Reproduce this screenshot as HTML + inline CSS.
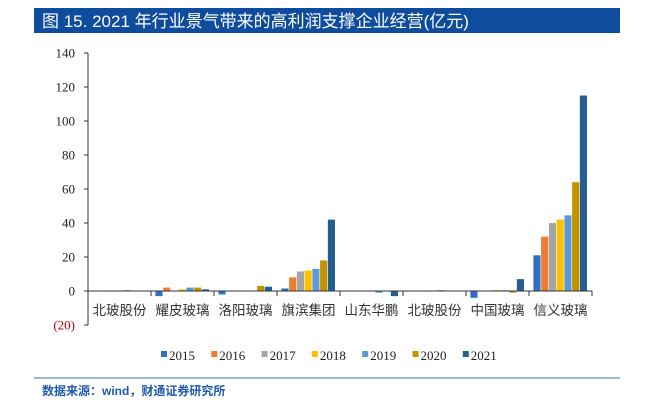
<!DOCTYPE html>
<html><head><meta charset="utf-8"><style>
body{margin:0;background:#fff;width:654px;height:411px;overflow:hidden;font-family:"Liberation Serif","Noto Serif CJK SC",serif}
</style></head><body>
<svg id="c" width="654" height="411" xmlns="http://www.w3.org/2000/svg">
<rect x="34" y="8" width="586" height="25" fill="#0E4C9E"/>
<text x="42" y="27" fill="#fff" font-size="17" font-family="Liberation Sans,Noto Sans CJK SC,sans-serif">图 15. 2021 年行业景气带来的高利润支撑企业经营(亿元)</text>
<g id="plot"></g>
<line x1="34" y1="378" x2="620" y2="378" stroke="#5B8FD0" stroke-width="1.2"/>
<text x="42" y="395" fill="#1F5AAE" font-size="12" font-weight="bold" font-family="Liberation Sans,Noto Sans CJK SC,sans-serif">数据来源：wind，财通证券研究所</text>
</svg>
<script>
const categories=["北玻股份","耀皮玻璃","洛阳玻璃","旗滨集团","山东华鹏","北玻股份","中国玻璃","信义玻璃"];
const years=["2015","2016","2017","2018","2019","2020","2021"];
const colors=["#3070C4","#ED7D31","#A5A5A5","#FFC000","#5B9BD5","#C49300","#255E91"];
const s2015=[0,-3,-2,1.5,0,0,-4,21];
const s2016=[0,2,0,8,0,0,0,32];
const s2017=[-0.3,0,0,11.5,0,-0.3,0,40];
const s2018=[0,1,0,12,0,0,0.5,42];
const s2019=[0.5,2,0.3,13,-1,0.5,0.5,44.5];
const s2020=[0,2,3,18,0,0,-1,64];
const s2021=[0,1,2.5,42,-3,0,7,115];
const series=[s2015,s2016,s2017,s2018,s2019,s2020,s2021];
const yTicks=[-20,0,20,40,60,80,100,120,140];
const yLabels=["(20)","0","20","40","60","80","100","120","140"];
const NS="http://www.w3.org/2000/svg",g=document.getElementById("plot");
const x0=88,x1=592,yMin=-20,yMax=140,yTop=53,yBot=325;
const y=v=>yBot-(v-yMin)/(yMax-yMin)*(yBot-yTop);
const bw=(x1-x0)/categories.length;
function mk(t,a){const e=document.createElementNS(NS,t);for(const k in a)e.setAttribute(k,a[k]);g.appendChild(e);return e;}
let e=mk("line",{x1:x0,y1:yTop,x2:x0,y2:yBot,stroke:"#333"});


yTicks.forEach((t,i)=>{
 const l=mk("line",{x1:x0-4,y1:y(t),x2:x0,y2:y(t),stroke:"#333"});
 
 
 const tx=mk("text",{x:x0-13,y:y(t)+4.5,"text-anchor":"end","font-size":"13",fill:t<0?"#C00000":"#222"});
 tx.textContent=yLabels[i];
 
 
});
categories.forEach((c,ci)=>{
 const cx=x0+ci*bw;
 const gw=bw*0.86, w=gw/years.length, sx=cx+(bw-gw)/2;
 series.forEach((s,si)=>{
  const v=s[ci];const a=y(Math.max(v,0)),b=y(Math.min(v,0));
  const r=mk("rect",{x:sx+si*w,y:a,width:w-0.6,height:Math.max(b-a,0.5),fill:colors[si]});
  
  
 });
 const t=mk("text",{x:cx+bw/2,y:y(0)+24,"text-anchor":"middle","font-size":"13.5",fill:"#333","font-family":"Noto Sans CJK SC,sans-serif"});
 t.textContent=c;
 
 
 const tk=mk("line",{x1:cx+bw,y1:y(0),x2:cx+bw,y2:y(0)+5,stroke:"#333"});
 
 
});
e=mk("line",{x1:x0,y1:y(0),x2:x1,y2:y(0),stroke:"#333"});


years.forEach((yr,i)=>{
 const lx=161+i*50.3;
 const r=mk("rect",{x:lx,y:351,width:6,height:6,fill:colors[i]});
 
 
 const t=mk("text",{x:lx+8,y:360,"font-size":"13",fill:"#222"});
 t.textContent=yr;
 
 
});
</script>
</body></html>
